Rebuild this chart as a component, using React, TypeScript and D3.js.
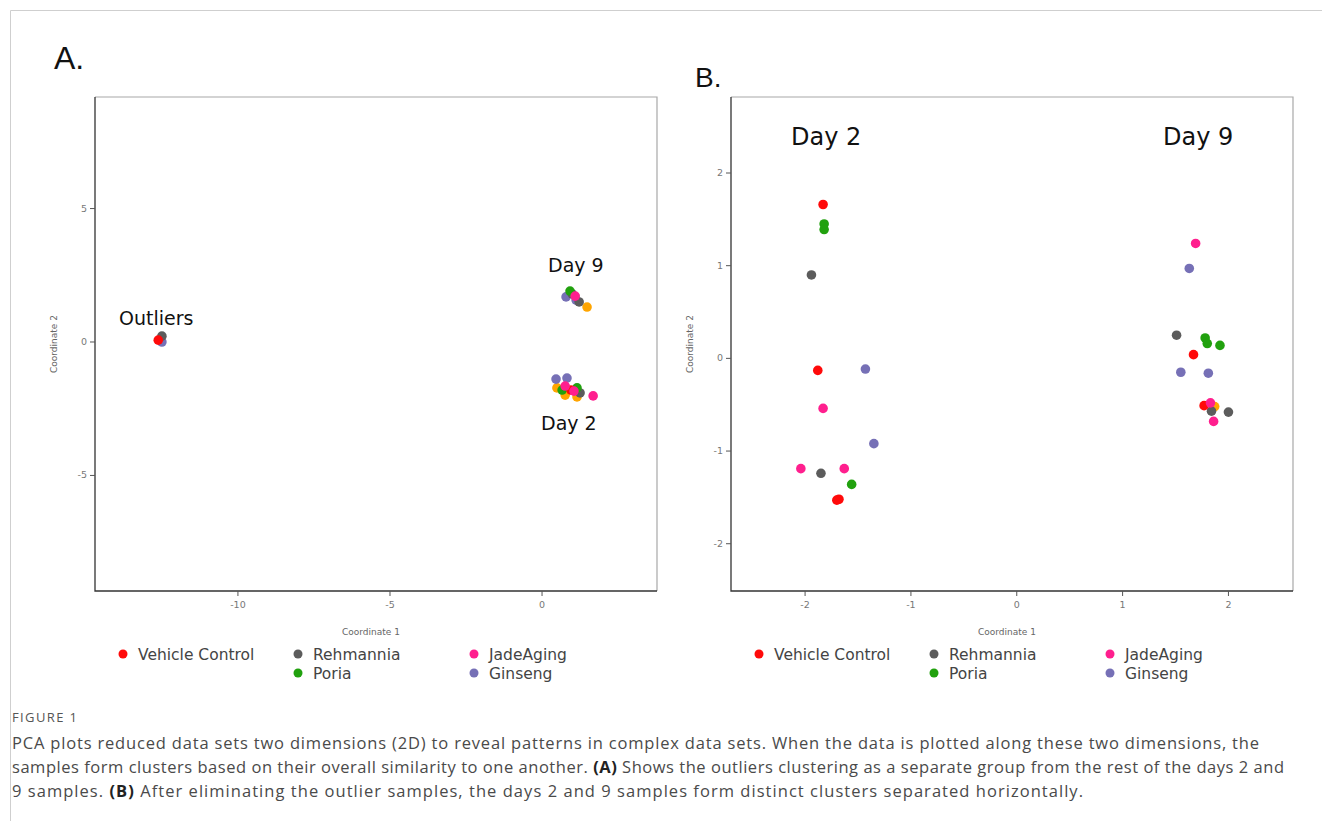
import React from "react";
import * as d3 from "d3";

type Pt = [number, number];

// colours
const groupNames = ["Vehicle Control", "Rehmannia", "Poria", "JadeAging", "Ginseng"];
const groupColors: Record<string, string> = {
  "Vehicle Control": "#ff0a0a",
  Rehmannia: "#5c5c5c",
  Poria: "#21a10e",
  JadeAging: "#ff1f8e",
  Ginseng: "#7670b6",
  Other: "#ffa500",
};

// panel A: all samples (with outliers)
const vehicleA: Pt[] = [[-12.62, 0.07], [0.95, -1.8]];
const rehmanniaA: Pt[] = [[-12.5, 0.22], [1.22, 1.5], [0.99, 1.8], [1.25, -1.91]];
const poriaA: Pt[] = [[0.92, 1.91], [0.66, -1.8], [1.15, -1.72]];
const jadeA: Pt[] = [[1.09, 1.72], [0.76, -1.65], [1.05, -1.84], [1.68, -2.02]];
const ginsengA: Pt[] = [[-12.5, 0.0], [0.79, 1.69], [1.12, 1.57], [0.46, -1.39], [0.82, -1.35]];
const otherA: Pt[] = [[1.48, 1.31], [0.49, -1.72], [0.76, -1.99], [1.15, -2.06]];

// panel B: outliers removed
const vehicleB: Pt[] = [[-1.83, 1.66], [-1.88, -0.13], [-1.68, -1.52], [-1.7, -1.53], [1.67, 0.04], [1.77, -0.51]];
const rehmanniaB: Pt[] = [[-1.94, 0.9], [-1.85, -1.24], [1.51, 0.25], [1.84, -0.57], [2.0, -0.58]];
const poriaB: Pt[] = [[-1.82, 1.45], [-1.82, 1.39], [-1.56, -1.36], [1.78, 0.22], [1.8, 0.16], [1.92, 0.14]];
const jadeB: Pt[] = [[-1.83, -0.54], [-2.04, -1.19], [-1.63, -1.19], [1.69, 1.24], [1.83, -0.48], [1.86, -0.68]];
const ginsengB: Pt[] = [[-1.43, -0.115], [-1.35, -0.92], [1.63, 0.97], [1.55, -0.15], [1.81, -0.16]];
const otherB: Pt[] = [[1.87, -0.52]];

const ticksAx = [-10, -5, 0];
const ticksAy = [5, 0, -5];
const ticksBx = [-2, -1, 0, 1, 2];
const ticksBy = [2, 1, 0, -1, -2];

const captionLines = [
  "PCA plots reduced data sets two dimensions (2D) to reveal patterns in complex data sets. When the data is plotted along these two dimensions, the",
  "samples form clusters based on their overall similarity to one another. |(A)| Shows the outliers clustering as a separate group from the rest of the days 2 and",
  "9 samples. |(B)| After eliminating the outlier samples, the days 2 and 9 samples form distinct clusters separated horizontally.",
];
const captionWidths = [1247, 1272, 1071];

const sans = "DejaVu Sans, Verdana, sans-serif";
const capFont = "Open Sans, Lato, sans-serif";

type PanelProps = {
  left: number; right: number; top: number; bottom: number;
  xDomain: [number, number]; yDomain: [number, number];
  xTicks: number[]; yTicks: number[];
  series: { name: string; pts: Pt[] }[];
  notes: { text: string; x: number; y: number; size: number }[];
};

const Panel = ({ left, right, top, bottom, xDomain, yDomain, xTicks, yTicks, series, notes }: PanelProps) => {
  const x = d3.scaleLinear().domain(xDomain).range([left, right]);
  const y = d3.scaleLinear().domain(yDomain).range([bottom, top]);
  const legendX = [left + 28, left + 203, left + 379];
  const legendItems = [
    { name: groupNames[0], col: 0, row: 0 },
    { name: groupNames[1], col: 1, row: 0 },
    { name: groupNames[2], col: 1, row: 1 },
    { name: groupNames[3], col: 2, row: 0 },
    { name: groupNames[4], col: 2, row: 1 },
  ];
  return (
    <g>
      <path d={`M${left},${top}H${right}V${bottom}`} fill="none" stroke="#a8a8a8" strokeWidth={1.2} />
      <path d={`M${left},${top}V${bottom}H${right}`} fill="none" stroke="#333" strokeWidth={1.3} />
      {xTicks.map((t) => (
        <g key={"x" + t}>
          <line x1={x(t)} x2={x(t)} y1={bottom} y2={bottom + 5} stroke="#555" />
          <text x={x(t)} y={bottom + 17} textAnchor="middle" fontSize={9.5} fill="#777" fontFamily={sans}>{t}</text>
        </g>
      ))}
      {yTicks.map((t) => (
        <g key={"y" + t}>
          <line x1={left - 5} x2={left} y1={y(t)} y2={y(t)} stroke="#555" />
          <text x={left - 8} y={y(t) + 3} textAnchor="end" fontSize={9.5} fill="#777" fontFamily={sans}>{t}</text>
        </g>
      ))}
      <text x={(left + right) / 2 - 5} y={bottom + 44} textAnchor="middle" fontSize={9} fill="#666" fontFamily={sans}>Coordinate 1</text>
      <text transform={`translate(${left - 38},${(top + bottom) / 2}) rotate(-90)`} textAnchor="middle" fontSize={9} fill="#666" fontFamily={sans}>Coordinate 2</text>
      {series.map((s) => (
        <g key={s.name}>
          {s.pts.map((p, i) => (
            <circle key={i} cx={x(p[0])} cy={y(p[1])} r={4.8} fill={groupColors[s.name]} />
          ))}
        </g>
      ))}
      {notes.map((n) => (
        <text key={n.text} x={n.x} y={n.y} fontSize={n.size} fill="#111" fontFamily={sans}>{n.text}</text>
      ))}
      {legendItems.map((it) => (
        <g key={it.name}>
          <circle cx={legendX[it.col]} cy={bottom + 63 + it.row * 19} r={4.5} fill={groupColors[it.name]} />
          <text x={legendX[it.col] + 15} y={bottom + 69 + it.row * 19} fontSize={15.5} fill="#444" fontFamily={sans}>{it.name}</text>
        </g>
      ))}
    </g>
  );
};

const CaptionLine = ({ line, y, width }: { line: string; y: number; width: number }) => {
  const parts = line.split("|");
  return (
    <text x={12} y={y} fontSize={16.5} fill="#4a4a4a" fontFamily={capFont} textLength={width} lengthAdjust="spacing">
      {parts.map((p, i) => (
        <tspan key={i} fontWeight={i % 2 === 1 ? 700 : 400} fill={i % 2 === 1 ? "#222" : "#4a4a4a"}>{p}</tspan>
      ))}
    </text>
  );
};

export default function App() {
  const seriesA = [
    { name: "Other", pts: otherA },
    { name: "Ginseng", pts: ginsengA },
    { name: "Rehmannia", pts: rehmanniaA },
    { name: "Poria", pts: poriaA },
    { name: "Vehicle Control", pts: vehicleA },
    { name: "JadeAging", pts: jadeA },
  ];
  const seriesB = [
    { name: "Other", pts: otherB },
    { name: "Ginseng", pts: ginsengB },
    { name: "Rehmannia", pts: rehmanniaB },
    { name: "Poria", pts: poriaB },
    { name: "Vehicle Control", pts: vehicleB },
    { name: "JadeAging", pts: jadeB },
  ];
  return (
    <svg width={1322} height={821} style={{ position: "absolute", left: 0, top: 0, background: "#fff" }}>
      <rect width={1322} height={821} fill="#fff" />
      <path d="M10.5,821V10.5H1322" fill="none" stroke="#cfcfcf" />
      <text x={54} y={69} fontSize={32} fill="#111" fontFamily="Liberation Sans, Arial, sans-serif">A.</text>
      <text x={695} y={87} fontSize={28} fill="#111" fontFamily="Liberation Sans, Arial, sans-serif">B.</text>
      <Panel
        left={95} right={657} top={97} bottom={591}
        xDomain={[-14.7, 3.78]} yDomain={[-9.33, 9.18]}
        xTicks={ticksAx} yTicks={ticksAy}
        series={seriesA}
        notes={[
          { text: "Outliers", x: 119, y: 325, size: 19 },
          { text: "Day 9", x: 548, y: 272, size: 19 },
          { text: "Day 2", x: 541, y: 430, size: 19 },
        ]}
      />
      <Panel
        left={731} right={1293} top={97} bottom={591}
        xDomain={[-2.7, 2.61]} yDomain={[-2.51, 2.82]}
        xTicks={ticksBx} yTicks={ticksBy}
        series={seriesB}
        notes={[
          { text: "Day 2", x: 791, y: 145, size: 24 },
          { text: "Day 9", x: 1163, y: 145, size: 24 },
        ]}
      />
      <text x={12} y={722} fontSize={13} fill="#555" fontFamily={capFont} textLength={65} lengthAdjust="spacing">FIGURE 1</text>
      {captionLines.map((l, i) => (
        <CaptionLine key={i} line={l} y={749 + i * 24} width={captionWidths[i]} />
      ))}
    </svg>
  );
}
